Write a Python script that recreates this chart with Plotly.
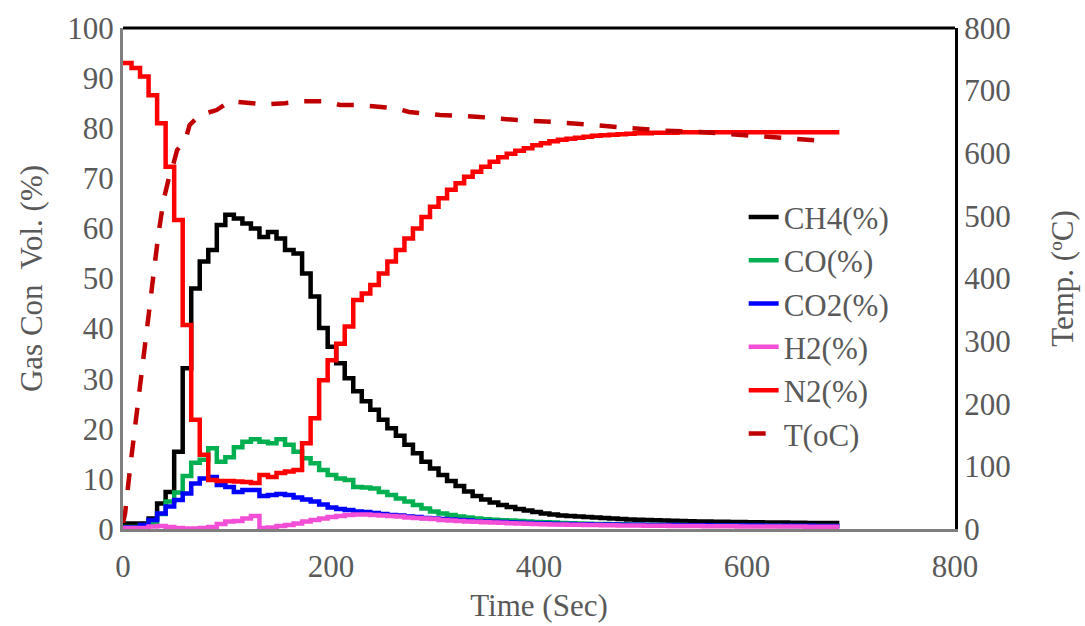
import plotly.graph_objects as go

# ---- data ----
SAMPLE_INTERVAL = 8.2  # seconds between analyser readings
N_SAMPLES = 85
TIME_S = [round(SAMPLE_INTERVAL * k, 1) for k in range(N_SAMPLES)]

CH4 = [1.1, 1.1, 1.1, 2.1, 5.1, 7.4, 15.4, 32.1, 48.0, 53.4,
       55.7, 60.7, 62.7, 62.0, 61.0, 60.0, 58.3, 59.3, 58.0, 55.7,
       55.0, 51.0, 46.4, 40.1, 36.4, 33.1, 30.1, 27.5, 25.5, 23.8,
       21.8, 20.1, 18.6, 16.8, 15.1, 13.4, 12.1, 10.8, 9.6, 8.6,
       7.5, 6.6, 5.9, 5.3, 4.8, 4.4, 4.0, 3.7, 3.4, 3.1,
       2.9, 2.7, 2.6, 2.5, 2.4, 2.3, 2.2, 2.1, 2.0, 1.9,
       1.85, 1.8, 1.75, 1.7, 1.65, 1.6, 1.55, 1.5, 1.5, 1.45,
       1.45, 1.4, 1.4, 1.35, 1.35, 1.3, 1.3, 1.3, 1.25, 1.25,
       1.2, 1.2, 1.2, 1.2, 1.2]

CO = [0.4, 0.4, 0.5, 1.2, 3.0, 5.5, 7.3, 10.6, 13.2, 13.8,
      16.1, 13.4, 14.3, 16.3, 17.4, 17.9, 17.4, 17.1, 17.9, 16.8,
      15.4, 14.1, 13.1, 11.8, 10.8, 10.1, 9.8, 8.4, 8.3, 8.1,
      7.4, 6.8, 6.1, 5.5, 4.8, 4.1, 3.5, 3.1, 2.8, 2.5,
      2.3, 2.1, 1.95, 1.85, 1.75, 1.7, 1.6, 1.5, 1.4, 1.35,
      1.3, 1.2, 1.15, 1.1, 1.05, 1.0, 1.0, 0.95, 0.95, 0.9,
      0.9, 0.85, 0.85, 0.8, 0.8, 0.8, 0.75, 0.75, 0.75, 0.7,
      0.7, 0.7, 0.7, 0.65, 0.65, 0.65, 0.65, 0.6, 0.6, 0.6,
      0.6, 0.6, 0.6, 0.6, 0.6]

CO2 = [0.3, 0.3, 0.8, 1.8, 3.1, 4.5, 5.8, 7.1, 9.1, 10.1,
       10.4, 8.8, 8.4, 7.4, 7.8, 7.8, 6.6, 6.8, 7.0, 6.8,
       6.3, 5.9, 5.5, 4.9, 4.3, 4.0, 3.8, 3.5, 3.4, 3.2,
       3.0, 2.8, 2.7, 2.5, 2.4, 2.2, 2.1, 2.0, 1.9, 1.8,
       1.7, 1.55, 1.5, 1.45, 1.4, 1.3, 1.25, 1.2, 1.15, 1.1,
       1.05, 1.0, 1.0, 0.95, 0.95, 0.9, 0.9, 0.9, 0.85, 0.85,
       0.85, 0.8, 0.8, 0.8, 0.8, 0.75, 0.75, 0.75, 0.75, 0.7,
       0.7, 0.7, 0.7, 0.7, 0.7, 0.65, 0.65, 0.65, 0.65, 0.65,
       0.65, 0.6, 0.6, 0.6, 0.6]

H2 = [0.2, 0.2, 0.2, 0.5, 0.6, 0.4, 0.2, 0.1, 0.1, 0.2,
      0.4, 1.0, 1.5, 1.6, 2.1, 2.6, 0.2, 0.3, 0.6, 0.8,
      1.1, 1.5, 1.8, 2.1, 2.4, 2.6, 2.8, 2.9, 2.9, 2.8,
      2.7, 2.6, 2.5, 2.3, 2.2, 2.1, 2.0, 1.8, 1.7, 1.6,
      1.5, 1.45, 1.35, 1.3, 1.25, 1.15, 1.1, 1.05, 1.0, 0.95,
      0.9, 0.9, 0.85, 0.85, 0.8, 0.8, 0.75, 0.75, 0.7, 0.7,
      0.7, 0.65, 0.65, 0.65, 0.6, 0.6, 0.6, 0.6, 0.55, 0.55,
      0.55, 0.55, 0.5, 0.5, 0.5, 0.5, 0.5, 0.5, 0.5, 0.5,
      0.45, 0.45, 0.45, 0.45, 0.45]

N2 = [93.0, 92.0, 90.3, 86.6, 81.0, 72.3, 61.7, 40.7, 21.8, 14.8,
      9.8, 9.6, 9.6, 9.5, 9.4, 9.2, 10.8, 10.4, 11.2, 11.5,
      11.8, 17.1, 22.1, 29.7, 33.7, 37.0, 40.4, 45.7, 47.0, 48.7,
      51.0, 53.4, 55.7, 58.0, 60.0, 62.3, 64.3, 66.0, 67.7, 69.0,
      70.3, 71.3, 72.3, 73.3, 74.2, 74.9, 75.5, 76.0, 76.6, 77.0,
      77.4, 77.7, 77.9, 78.1, 78.3, 78.5, 78.6, 78.7, 78.8, 78.9,
      79.0, 79.0, 79.1, 79.1, 79.1, 79.2, 79.2, 79.2, 79.2, 79.2,
      79.2, 79.2, 79.2, 79.2, 79.2, 79.2, 79.2, 79.2, 79.2, 79.2,
      79.2, 79.2, 79.2, 79.2, 79.2]

T_TIME = [0, 2, 7, 12, 16, 20, 24, 29, 34, 39,
          44, 48, 52, 60, 64, 74, 90, 103, 119, 137,
          156, 173, 193, 209, 228, 245, 262, 275, 305, 343,
          379, 414, 449, 485, 520, 555, 590, 626, 662, 672]
T_VALUE = [10, 25, 100, 170, 227, 281, 345, 403, 470, 525,
           560, 580, 605, 621, 645, 661, 669, 683, 680, 678,
           680, 683, 683, 677, 677, 675, 672, 666, 661, 658,
           653, 650, 645, 641, 636, 634, 630, 627, 622, 620]

SERIES = [("CH4(%)", CH4, "#000000"),
          ("CO(%)", CO, "#00B050"),
          ("CO2(%)", CO2, "#0000FF"),
          ("H2(%)", H2, "#F24FD6"),
          ("N2(%)", N2, "#FF0000")]

X_TICKS = [0, 200, 400, 600, 800]
Y_TICKS = list(range(0, 101, 10))
Y2_TICKS = list(range(0, 801, 100))

FONT = "Liberation Serif, Times New Roman, serif"
GREY = "#595959"
FS = 31

fig = go.Figure()
for i, (name, vals, color) in enumerate(SERIES):
    fig.add_trace(go.Scatter(
        x=TIME_S, y=vals, name=name, mode="lines",
        line=dict(color=color, width=4.5, shape="hv"),
        legendgroup=f"g{i}",
    ))
fig.add_trace(go.Scatter(
    x=T_TIME, y=T_VALUE, name="T(oC)", mode="lines", yaxis="y2",
    line=dict(color="#C00000", width=4.5, dash="17px,16px"),
    legendgroup="g5",
))

fig.update_layout(
    width=1085, height=626,
    margin=dict(l=123, r=130, t=28, b=97, autoexpand=False),
    paper_bgcolor="white", plot_bgcolor="white",
    font=dict(family=FONT, size=FS, color=GREY),
    showlegend=True,
    legend=dict(
        x=0.746, y=0.676, xanchor="left", yanchor="top",
        bgcolor="rgba(0,0,0,0)", font=dict(family=FONT, size=FS, color=GREY),
        tracegroupgap=0, itemwidth=30,
    ),
    xaxis=dict(
        range=[0, 800], tickvals=X_TICKS, ticktext=[str(v) for v in X_TICKS],
        showgrid=False, zeroline=False, showline=True,
        linecolor="#7f7f7f", linewidth=3, ticks="",
        ticklabelstandoff=8,
        tickfont=dict(family=FONT, size=FS, color=GREY),
        title=dict(text="Time (Sec)", font=dict(family=FONT, size=FS, color=GREY), standoff=12),
        automargin=False,
    ),
    yaxis=dict(
        range=[0, 100], tickvals=Y_TICKS, ticktext=[str(v) for v in Y_TICKS],
        showgrid=False, zeroline=False, showline=True,
        linecolor="#7f7f7f", linewidth=3, ticks="",
        tickfont=dict(family=FONT, size=FS, color=GREY),
        title=dict(text="Gas Con\u00a0 Vol. (%)", font=dict(family=FONT, size=FS, color=GREY), standoff=16),
        automargin=False,
    ),
    yaxis2=dict(
        range=[0, 800], tickvals=Y2_TICKS, ticktext=[str(v) for v in Y2_TICKS],
        overlaying="y", side="right",
        showgrid=False, zeroline=False, showline=True,
        linecolor="#000000", linewidth=3, ticks="",
        tickfont=dict(family=FONT, size=FS, color=GREY),
        title=dict(text="Temp. (ºC)", font=dict(family=FONT, size=FS, color=GREY), standoff=42),
        automargin=False,
    ),
    shapes=[dict(type="line", xref="paper", yref="paper", x0=0, x1=1, y0=1, y1=1,
                 line=dict(color="#000000", width=3))],
)

fig.write_html("out.html")
